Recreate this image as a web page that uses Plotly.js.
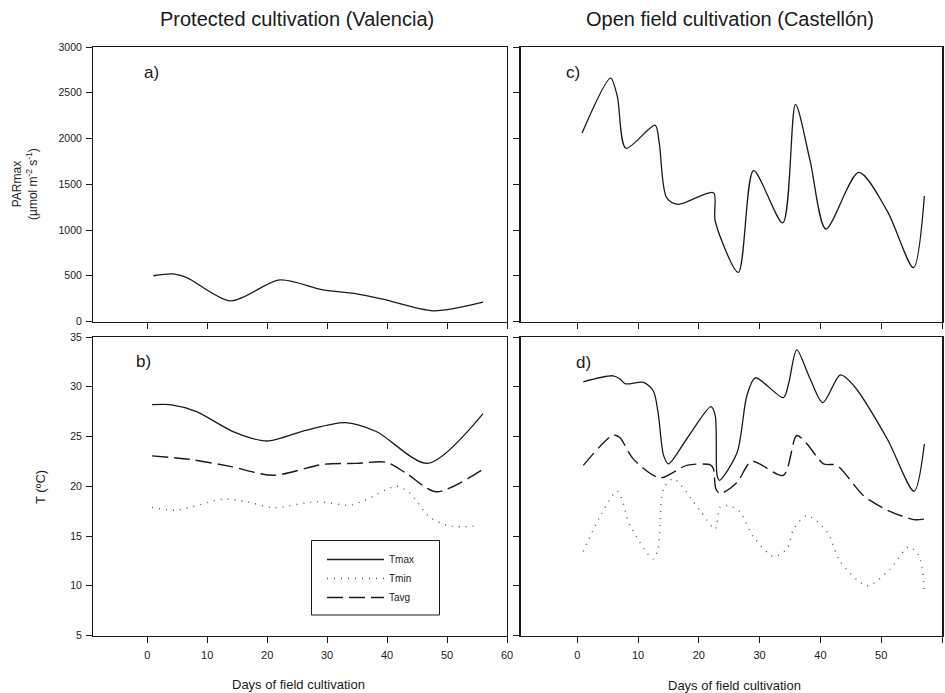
<!DOCTYPE html>
<html>
<head>
<meta charset="utf-8">
<script src="https://cdn.plot.ly/plotly-3.0.1.min.js"></script>
<style>
  html, body { margin: 0; padding: 0; background: #fff; }
  #chart { width: 945px; height: 693px; }
</style>
</head>
<body>
<div id="chart"></div>
<script>
// ---- Protected cultivation (Valencia) ----
// a) PARmax
const dayParValencia = [1, 4.3, 6.6, 13.9, 22.1, 29.3, 34.9, 39.3, 47.7, 56];
const parValencia    = [500, 520, 480, 226, 455, 345, 302, 244, 117, 211];

// b) temperatures
const dayTmaxValencia = [0.8, 3.8, 8.2, 14.3, 19.9, 26.6, 33, 38.2, 46.8, 56];
const tmaxValencia    = [28.2, 28.2, 27.5, 25.5, 24.55, 25.65, 26.4, 25.5, 22.3, 27.3];

const dayTminValencia = [0.8, 4.9, 12.7, 16.6, 21, 28.2, 33.8, 36.3, 41.6, 43.8, 47.1, 50.5, 55.2];
const tminValencia    = [17.85, 17.6, 18.7, 18.45, 17.85, 18.45, 18.1, 18.6, 20.0, 19.3, 16.9, 16.0, 16.0];

const dayTavgValencia = [0.8, 7.1, 13.8, 21, 29.3, 34.9, 39.9, 43.2, 48.2, 55.7];
const tavgValencia    = [23.05, 22.7, 22.0, 21.1, 22.2, 22.3, 22.4, 21.3, 19.45, 21.6];

// ---- Open field cultivation (Castellón) ----
// c) PARmax
const dayParCastellon = [0.8, 5.5, 6.6, 8.0, 12.8, 13.5, 14.7, 16.6, 22.4, 22.7, 26.5, 29.0, 33.8, 35.9, 38.3, 40.9, 46.3, 51, 55.3, 57.1];
const parCastellon    = [2060, 2660, 2457, 1894, 2145, 1943, 1353, 1280, 1408, 1096, 537, 1648, 1077, 2373, 1758, 1011, 1629, 1206, 588, 1372];

// d) temperatures
const dayTmaxCastellon = [1.0, 5.9, 7.0, 7.9, 10.9, 12.5, 13.3, 14.2, 15, 18, 22, 22.7, 23, 23.4, 26.3, 27.9, 29.3, 33.9, 34.8, 36.1, 38.3, 40.4, 43.3, 45.5, 51, 55.4, 57.1];
const tmaxCastellon    = [30.5, 31.1, 30.8, 30.3, 30.45, 29.6, 27.4, 23.1, 22.25, 24.75, 28, 27.1, 21.1, 20.6, 23.4, 29.1, 30.9, 28.9, 30.4, 33.7, 30.8, 28.4, 31.2, 30.1, 24.75, 19.5, 24.25];

const dayTminCastellon = [1.0, 3.7, 6.6, 8.7, 12.5, 13.3, 14.2, 15.8, 20.2, 22.7, 23.5, 24.9, 26.8, 29, 32.3, 34.5, 35.6, 37.8, 41.1, 43.3, 47.7, 51.5, 54.5, 56.2, 57.1];
const tminCastellon    = [13.45, 16.9, 19.5, 16.05, 12.7, 13.7, 19.75, 20.75, 17.55, 15.7, 17.9, 18.05, 17.4, 14.9, 12.95, 13.7, 15.7, 17.05, 15.4, 12.4, 10.0, 11.7, 13.9, 13.05, 9.4];

const dayTavgCastellon = [1.0, 5.9, 7.0, 9.2, 13.6, 18, 21.9, 22.4, 22.8, 23.5, 26.3, 28.7, 33.9, 36.1, 37.8, 40.5, 42.7, 47.1, 51, 55.4, 57.1];
const tavgCastellon    = [22.1, 25.15, 24.9, 22.75, 20.85, 22.1, 22.15, 21.75, 19.75, 19.25, 20.4, 22.5, 21.1, 25.1, 24.25, 22.25, 22.1, 19.05, 17.6, 16.65, 16.7];

// axis ticks
const dayTicks = [0, 10, 20, 30, 40, 50, 60];
const parTicks = [0, 500, 1000, 1500, 2000, 2500, 3000];
const tempTicks = [5, 10, 15, 20, 25, 30, 35];

const FONT = 'Liberation Sans, Arial, sans-serif';
const INK = '#1a1a1a';

const solid  = { color: INK, width: 1.3, shape: 'spline', smoothing: 0.8 };
const dotted = { color: '#555', width: 1.4, shape: 'spline', smoothing: 0.8, dash: '1px,6px' };
const dashed = { color: INK, width: 1.4, shape: 'spline', smoothing: 0.8, dash: '16px,6px' };

function line(x, y, style, xa, ya, name, legend) {
  return { type: 'scatter', mode: 'lines', x: x, y: y, line: style,
           xaxis: xa, yaxis: ya, name: name, showlegend: !!legend, hoverinfo: 'x+y' };
}

const traces = [
  line(dayParValencia, parValencia, solid, 'x', 'y', 'PARmax', false),
  line(dayTmaxValencia, tmaxValencia, solid, 'x2', 'y2', 'Tmax', true),
  line(dayTminValencia, tminValencia, dotted, 'x2', 'y2', 'Tmin', true),
  line(dayTavgValencia, tavgValencia, dashed, 'x2', 'y2', 'Tavg', true),
  line(dayParCastellon, parCastellon, solid, 'x3', 'y3', 'PARmax', false),
  line(dayTmaxCastellon, tmaxCastellon, solid, 'x4', 'y4', 'Tmax', false),
  line(dayTminCastellon, tminCastellon, dotted, 'x4', 'y4', 'Tmin', false),
  line(dayTavgCastellon, tavgCastellon, dashed, 'x4', 'y4', 'Tavg', false)
];

const W = 945, H = 693;
const colL = [93 / W, 507 / W];
const colR = [521 / W, 942 / W];
const rowTop = [1 - 321.5 / H, 1 - 47 / H];
const rowBot = [1 - 635.5 / H, 1 - 337 / H];

function xAxis(domain, anchor, range, labels) {
  return {
    domain: domain, anchor: anchor, range: range,
    tickmode: 'array', tickvals: dayTicks, ticktext: dayTicks.map(String),
    showticklabels: labels, ticks: 'outside', ticklen: 6, tickwidth: 1, tickcolor: INK,
    ticklabelstandoff: 3,
    showline: true, linecolor: INK, linewidth: 1, mirror: true,
    showgrid: false, zeroline: false,
    tickfont: { family: FONT, size: 11, color: INK }
  };
}
function yAxis(domain, anchor, range, ticks, labels, lw) {
  return {
    domain: domain, anchor: anchor, range: range,
    tickmode: 'array', tickvals: ticks, ticktext: ticks.map(String),
    showticklabels: labels, ticks: 'outside', ticklen: 6, tickwidth: 1, tickcolor: INK,
    ticklabelstandoff: 2,
    showline: true, linecolor: INK, linewidth: lw, mirror: true,
    showgrid: false, zeroline: false,
    tickfont: { family: FONT, size: 10.5, color: INK }
  };
}

function note(text, x, y, size, extra) {
  return Object.assign({ text: text, x: x / W, y: 1 - y / H, xref: 'paper', yref: 'paper',
    xanchor: 'center', yanchor: 'middle',
    showarrow: false, font: { family: FONT, size: size, color: INK } }, extra || {});
}

const layout = {
  width: W, height: H,
  margin: { l: 0, r: 0, t: 0, b: 0 },
  paper_bgcolor: '#fff', plot_bgcolor: 'rgba(0,0,0,0)',
  font: { family: FONT, color: INK },
  xaxis:  xAxis(colL, 'y',  [-9.05, 60], false),
  yaxis:  yAxis(rowTop, 'x', [0, 3000], parTicks, true, 1),
  xaxis2: xAxis(colL, 'y2', [-9.05, 60], true),
  yaxis2: yAxis(rowBot, 'x2', [5, 35], tempTicks, true, 1),
  xaxis3: xAxis(colR, 'y3', [-9.25, 60], false),
  yaxis3: yAxis(rowTop, 'x3', [0, 3000], parTicks, false, 2),
  xaxis4: xAxis(colR, 'y4', [-9.25, 60], true),
  yaxis4: yAxis(rowBot, 'x4', [5, 35], tempTicks, false, 2),
  showlegend: true,
  legend: {
    x: 322 / W, y: 1 - 545 / H, xanchor: 'left', yanchor: 'top',
    borderwidth: 0, bgcolor: 'rgba(0,0,0,0)',
    font: { family: FONT, size: 10, color: INK },
    itemwidth: 57, tracegroupgap: 0
  },
  // frame around the legend entries
  shapes: [
    { type: 'rect', xref: 'paper', yref: 'paper',
      x0: 311.5 / W, x1: 439.5 / W, y0: 1 - 615 / H, y1: 1 - 540.5 / H,
      line: { color: INK, width: 1 }, fillcolor: 'rgba(0,0,0,0)', layer: 'above' }
  ],
  annotations: [
    note('Protected cultivation (Valencia)', 297, 19, 20),
    note('Open field cultivation (Castellón)', 730, 19, 20),
    note('a)', 151, 73, 17),
    note('b)', 143, 361, 17),
    note('c)', 573, 73, 17),
    note('d)', 583, 362, 17),
    note('PARmax<br>(µmol m<sup>-2</sup> s<sup>-1</sup>)', 25, 184, 12, { textangle: -90 }),
    note('T (ºC)', 40, 487, 13, { textangle: -90 }),
    note('Days of field cultivation', 298, 684, 13),
    note('Days of field cultivation', 734, 685, 13)
  ]
};

Plotly.newPlot('chart', traces, layout, { staticPlot: true, displayModeBar: false });
</script>
</body>
</html>
